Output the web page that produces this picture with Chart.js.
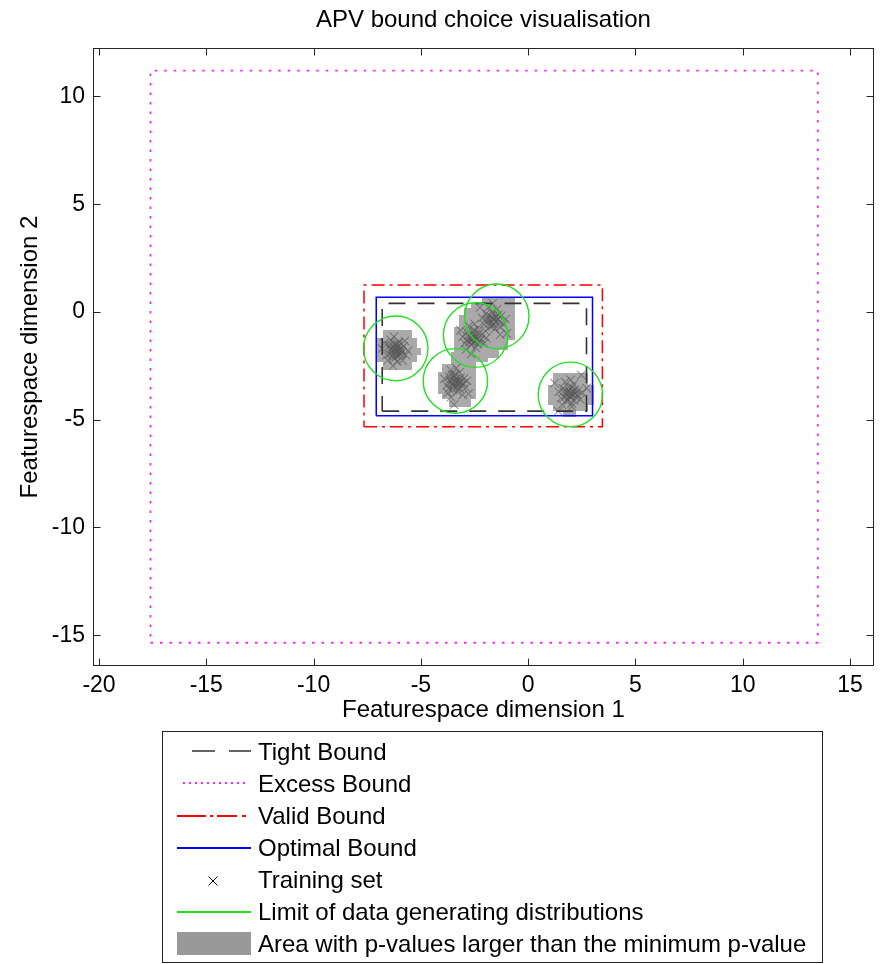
<!DOCTYPE html>
<html>
<head>
<meta charset="utf-8">
<script src="https://cdn.jsdelivr.net/npm/chart.js@4.4.1/dist/chart.umd.min.js"></script>
<style>
  html, body { margin: 0; padding: 0; background: #fff; }
  #wrap { position: relative; width: 881px; height: 964px; overflow: hidden;
          font-family: "Liberation Sans", Arial, sans-serif; color: #000; }
  #chart { position: absolute; left: 0; top: 0; }
  #legendBox { position: absolute; left: 162px; top: 731px; width: 661px; height: 232px;
               box-sizing: border-box; border: 1px solid #222; background: transparent; }
  .lg { position: absolute; left: 258px; font-size: 24px; line-height: 32px; white-space: nowrap; }
</style>
</head>
<body>
<div id="wrap">
  <canvas id="chart" width="881" height="964"></canvas>
  <div id="legendBox"></div>
  <div id="legendText"></div>
</div>
<script>
// Axis ranges and ticks
const xRange = [-20.28, 16.11];
const yRange = [-16.43, 12.25];
const xTickValues = [-20, -15, -10, -5, 0, 5, 10, 15];
const xTickLabels = ['-20', '-15', '-10', '-5', '0', '5', '10', '15'];
const yTickValues = [-15, -10, -5, 0, 5, 10];
const yTickLabels = ['-15', '-10', '-5', '0', '5', '10'];

// Bounds as [xMin, xMax, yMin, yMax]
const tightBound   = [-6.8, 2.72, -4.6, 0.4];
const excessBound  = [-17.6, 13.5, -15.35, 11.2];
const validBound   = [-7.65, 3.46, -5.33, 1.25];
const optimalBound = [-7.08, 3.0, -4.82, 0.68];

// Training samples, one list per generating distribution
const trainingCluster1 = [[-6.2,-1.72],[-6.5,-1.55],[-5.9,-1.9],[-6.3,-2.1],[-6.0,-1.4],[-6.6,-2.0],[-5.8,-1.6],[-6.4,-1.3],[-6.1,-2.3],[-5.7,-2.0],[-6.8,-1.7],[-6.2,-1.5],[-6.0,-2.0],[-6.35,-1.85],[-5.95,-1.7],[-6.55,-2.25],[-5.6,-1.8],[-6.25,-1.15],[-6.7,-1.45],[-6.1,-1.65],[-5.85,-2.25],[-6.45,-1.95],[-6.15,-2.05],[-5.75,-1.35],[-6.3,-2.5],[-6.05,-1.85],[-6.4,-1.7],
  [-6.15,-1.8],[-6.25,-1.6],[-6.05,-1.55],[-6.3,-1.95],[-5.95,-1.95],[-6.2,-1.9],[-6.1,-1.45],[-6.4,-1.55],[-5.9,-1.8],[-6.2,-2.15],[-6.0,-1.75],[-6.35,-1.75]];
const trainingCluster2 = [[-3.42,-3.2],[-3.7,-3.0],[-3.1,-3.4],[-3.5,-3.6],[-3.2,-2.8],[-3.8,-3.4],[-3.0,-3.1],[-3.6,-2.7],[-3.3,-3.7],[-2.9,-3.5],[-3.9,-3.1],[-3.45,-2.95],[-3.25,-3.35],[-3.55,-3.3],[-3.15,-3.05],[-3.75,-3.75],[-2.85,-3.2],[-3.35,-2.6],[-3.6,-3.95],[-3.05,-3.85],[-3.5,-3.05],[-3.3,-3.5],[-3.4,-3.25],[-3.65,-3.15],[-3.45,-4.3],[-2.78,-3.8],
  [-3.35,-3.1],[-3.5,-3.4],[-3.25,-3.2],[-3.45,-3.45],[-3.6,-3.25],[-3.2,-3.55],[-3.4,-2.9],[-3.55,-2.9],[-3.15,-3.25],[-3.3,-3.3],[-3.7,-3.55],[-3.0,-3.3]];
const trainingCluster3 = [[-2.55,-1.15],[-2.85,-0.95],[-2.25,-1.35],[-2.65,-1.55],[-2.35,-0.75],[-2.95,-1.45],[-2.15,-1.05],[-2.75,-0.65],[-2.45,-1.65],[-2.05,-1.45],[-3.05,-1.15],[-2.6,-0.9],[-2.4,-1.3],[-2.7,-1.25],[-2.3,-1.0],[-2.9,-1.75],[-1.95,-1.2],[-2.5,-0.55],[-3.15,-0.85],[-2.65,-1.95],[-2.55,-1.4],[-2.8,-1.1],
  [-2.5,-1.05],[-2.65,-1.35],[-2.4,-1.2],[-2.6,-1.05],[-2.75,-1.4],[-2.35,-1.5],[-2.5,-0.85],[-2.85,-1.3],[-2.2,-1.25],[-2.55,-1.25]];
const trainingCluster4 = [[-1.65,-0.28],[-1.95,-0.08],[-1.35,-0.48],[-1.75,-0.68],[-1.45,0.12],[-2.05,-0.58],[-1.25,-0.18],[-1.85,0.22],[-1.55,-0.78],[-1.15,-0.58],[-2.15,-0.28],[-1.7,-0.03],[-1.5,-0.43],[-1.8,-0.38],[-1.4,-0.13],[-2.0,-0.88],[-1.05,-0.33],[-1.65,0.4],[-1.0,-1.0],[-1.3,-1.05],[-2.25,0.2],[-1.6,-0.55],[-1.9,-0.2],
  [-1.6,-0.35],[-1.75,-0.2],[-1.5,-0.25],[-1.7,-0.5],[-1.85,-0.55],[-1.4,-0.35],[-1.55,-0.1],[-1.95,-0.35],[-1.3,-0.7],[-1.65,-0.65]];
const trainingCluster5 = [[1.93,-3.75],[1.63,-3.55],[2.23,-3.95],[1.83,-4.15],[2.13,-3.35],[1.53,-4.0],[2.33,-3.65],[1.73,-3.25],[2.03,-4.25],[2.43,-4.05],[1.43,-3.7],[1.88,-3.5],[2.08,-3.85],[1.78,-3.85],[2.18,-3.6],[1.58,-4.3],[2.53,-3.75],[1.98,-3.15],[1.4,-4.6],[2.48,-2.93],[2.72,-3.53],[1.23,-3.3],[2.03,-4.4],[1.95,-3.95],
  [1.9,-3.65],[2.0,-3.8],[1.8,-3.7],[2.1,-3.7],[1.95,-3.9],[1.7,-3.95],[2.2,-3.8],[1.85,-4.05],[2.05,-3.5],[2.3,-3.85],[1.65,-3.7],[2.15,-4.1]];

// Limits of the data generating distributions: centres and common radius
const distCenters = [[-6.17,-1.69],[-3.39,-3.2],[-2.45,-1.07],[-1.46,-0.2],[1.97,-3.83]];
const distRadius = 1.5;

// Grid cells whose p-value exceeds the minimum p-value: [xMin, xMax, yMin, yMax]
const pCellsArea1 = [[-6.77,-5.42,-2.69,-0.84],[-7.05,-5.19,-2.32,-1.21],[-5.42,-5.01,-2.0,-1.67]];
const pCellsArea2 = [[-3.61,-2.45,-2.42,-1.86],[-4.0,-2.45,-4.04,-2.42],[-4.22,-4.0,-3.8,-2.8],[-3.71,-2.68,-4.41,-4.04]];
const pCellsArea3 = [[-2.17,-0.59,-1.3,0.7],[-2.64,-0.92,-1.77,0.42],[-3.01,-1.38,-2.14,0.19],[-3.24,-1.85,-2.32,-0.14],[-3.47,-2.08,-2.09,-0.7],[-3.1,-2.45,-2.46,-2.09]];
const pCellsArea5 = [[1.17,2.8,-4.6,-2.83],[0.94,3.08,-4.32,-3.39],[1.64,2.24,-4.88,-4.6]];

const pValueAreas = [pCellsArea1, pCellsArea2, pCellsArea3, pCellsArea5];
const trainingSet = [].concat(trainingCluster1, trainingCluster2, trainingCluster3, trainingCluster4, trainingCluster5);

const FONT = '"Liberation Sans", Arial, sans-serif';
const AXIS_COLOR = '#262626';
const COLORS = { tight: '#333333', excess: '#ff22ff', valid: '#ff0000', optimal: '#0000ff',
                 training: 'rgba(85,85,85,0.55)', limit: '#20e020', area: '#aaaaaa', areaKey: '#999999' };

function boxPath(b) {
  return [
    { x: b[0], y: b[2] }, { x: b[1], y: b[2] }, { x: b[1], y: b[3] },
    { x: b[0], y: b[3] }, { x: b[0], y: b[2] }
  ];
}
function boundDataset(label, bound, color, dash, width, order) {
  return {
    label, data: boxPath(bound), showLine: true, borderColor: color,
    borderDash: dash, borderWidth: width, pointRadius: 0, fill: false,
    tension: 0, order
  };
}

// Title centred over the plotting area
const titlePlugin = {
  id: 'plotTitle',
  afterDraw(chart) {
    const { ctx, chartArea: a } = chart;
    ctx.save();
    ctx.fillStyle = '#000';
    ctx.font = '24px ' + FONT;
    ctx.textAlign = 'center';
    ctx.textBaseline = 'alphabetic';
    ctx.fillText('APV bound choice visualisation', (a.left + a.right) / 2, 27);
    ctx.restore();
  }
};

// Grey p-value cells behind the samples
const pValuePlugin = {
  id: 'pValueArea',
  beforeDatasetsDraw(chart) {
    const { ctx, scales: { x, y } } = chart;
    ctx.save();
    ctx.fillStyle = COLORS.area;
    pValueAreas.forEach(cells => cells.forEach(([x0, x1, y0, y1]) => {
      const px0 = Math.round(x.getPixelForValue(x0)), px1 = Math.round(x.getPixelForValue(x1));
      const py0 = Math.round(y.getPixelForValue(y0)), py1 = Math.round(y.getPixelForValue(y1));
      ctx.fillRect(px0, py1, px1 - px0, py0 - py1);
    }));
    ctx.restore();
  }
};

// Circles marking the limit of each generating distribution
const limitPlugin = {
  id: 'distLimits',
  afterDatasetsDraw(chart) {
    const { ctx, scales: { x, y } } = chart;
    ctx.save();
    ctx.strokeStyle = COLORS.limit;
    ctx.lineWidth = 1.4;
    distCenters.forEach(([cx, cy]) => {
      const px = x.getPixelForValue(cx), py = y.getPixelForValue(cy);
      const rx = x.getPixelForValue(cx + distRadius) - px;
      const ry = py - y.getPixelForValue(cy + distRadius);
      ctx.beginPath();
      ctx.ellipse(px, py, rx, ry, 0, 0, Math.PI * 2);
      ctx.stroke();
    });
    ctx.restore();
  }
};

// Box frame with inward ticks on all four sides
const framePlugin = {
  id: 'boxFrame',
  afterDraw(chart) {
    const { ctx, chartArea: a, scales: { x, y } } = chart;
    const tl = 7;
    ctx.save();
    ctx.strokeStyle = AXIS_COLOR;
    ctx.lineWidth = 1;
    const L = Math.round(a.left) + 0.5, R = Math.round(a.right) - 0.5;
    const T = Math.round(a.top) + 0.5, B = Math.round(a.bottom) - 0.5;
    ctx.strokeRect(L, T, R - L, B - T);
    ctx.beginPath();
    x.ticks.forEach(t => {
      const p = Math.round(x.getPixelForValue(t.value)) + 0.5;
      ctx.moveTo(p, B); ctx.lineTo(p, B - tl);
      ctx.moveTo(p, T); ctx.lineTo(p, T + tl);
    });
    y.ticks.forEach(t => {
      const p = Math.round(y.getPixelForValue(t.value)) + 0.5;
      ctx.moveTo(L, p); ctx.lineTo(L + tl, p);
      ctx.moveTo(R, p); ctx.lineTo(R - tl, p);
    });
    ctx.stroke();
    ctx.restore();
  }
};

// Legend keys, drawn below the axes next to the HTML labels
const legendKeyPlugin = {
  id: 'legendKeys',
  afterDraw(chart) {
    const ctx = chart.ctx;
    ctx.save();
    const seg = (x1, x2, y, color, dash, w) => {
      ctx.beginPath();
      ctx.strokeStyle = color; ctx.lineWidth = w; ctx.setLineDash(dash);
      ctx.moveTo(x1, y); ctx.lineTo(x2, y); ctx.stroke();
    };
    seg(192, 251, 751, COLORS.tight, [23, 14], 1.6);
    seg(183, 245, 783, COLORS.excess, [2, 4], 1.8);
    seg(177, 251, 816, COLORS.valid, [29, 4, 3, 4, 20, 5, 4, 100], 1.8);
    seg(177, 251, 848, COLORS.optimal, [], 1.8);
    ctx.setLineDash([]);
    ctx.strokeStyle = '#000'; ctx.lineWidth = 1;
    ctx.beginPath();
    ctx.moveTo(208.5, 876.5); ctx.lineTo(217.5, 885.5);
    ctx.moveTo(217.5, 876.5); ctx.lineTo(208.5, 885.5);
    ctx.stroke();
    seg(177, 251, 912, COLORS.limit, [], 1.8);
    ctx.fillStyle = COLORS.areaKey;
    ctx.fillRect(177, 932, 74, 23);
    ctx.restore();
  }
};

new Chart(document.getElementById('chart'), {
  type: 'scatter',
  data: {
    datasets: [
      boundDataset('Tight Bound', tightBound, COLORS.tight, [17, 12], 1.6, 1),
      boundDataset('Excess Bound', excessBound, COLORS.excess, [2.5, 7], 1.8, 4),
      boundDataset('Valid Bound', validBound, COLORS.valid, [13, 5, 3, 5], 1.5, 3),
      boundDataset('Optimal Bound', optimalBound, COLORS.optimal, [], 1.5, 2),
      {
        label: 'Training set',
        data: trainingSet.map(([px, py]) => ({ x: px, y: py })),
        pointStyle: 'crossRot', pointRadius: 6, borderWidth: 1.2,
        borderColor: COLORS.training, backgroundColor: 'rgba(0,0,0,0)',
        showLine: false, order: 5
      }
    ]
  },
  options: {
    responsive: false,
    maintainAspectRatio: false,
    animation: false,
    events: [],
    layout: { padding: { left: 0, right: 4, top: 48, bottom: 234 } },
    plugins: {
      legend: { display: false },
      tooltip: { enabled: false },
      title: { display: false }
    },
    scales: {
      x: {
        type: 'linear', position: 'bottom',
        min: xRange[0], max: xRange[1],
        grid: { display: false, drawTicks: false },
        border: { display: false },
        afterBuildTicks: s => { s.ticks = xTickValues.map(v => ({ value: v })); },
        afterFit: s => { s.height = 64; },
        ticks: {
          padding: 6, color: '#000', maxRotation: 0, autoSkip: false,
          font: { family: FONT, size: 23 },
          callback: (v, i) => xTickLabels[i]
        },
        title: {
          display: true, text: 'Featurespace dimension 1', color: '#000',
          font: { family: FONT, size: 24 }, padding: { top: 0, bottom: 5 }
        }
      },
      y: {
        type: 'linear', position: 'left',
        min: yRange[0], max: yRange[1],
        grid: { display: false, drawTicks: false },
        border: { display: false },
        afterBuildTicks: s => { s.ticks = yTickValues.map(v => ({ value: v })); },
        afterFit: s => { s.width = 93; },
        ticks: {
          padding: 8, color: '#000', autoSkip: false,
          font: { family: FONT, size: 23 },
          callback: (v, i) => yTickLabels[i]
        },
        title: {
          display: true, text: 'Featurespace dimension 2', color: '#000',
          font: { family: FONT, size: 24 }, padding: { top: 16, bottom: 0 }
        }
      }
    }
  },
  plugins: [titlePlugin, pValuePlugin, limitPlugin, framePlugin, legendKeyPlugin]
});

// Legend labels
const legendLabels = ['Tight Bound', 'Excess Bound', 'Valid Bound', 'Optimal Bound',
  'Training set', 'Limit of data generating distributions',
  'Area with p-values larger than the minimum p-value'];
const legendText = document.getElementById('legendText');
legendLabels.forEach((t, i) => {
  const d = document.createElement('div');
  d.className = 'lg';
  d.style.top = (736 + 32 * i) + 'px';
  d.textContent = t;
  legendText.appendChild(d);
});
</script>
</body>
</html>
